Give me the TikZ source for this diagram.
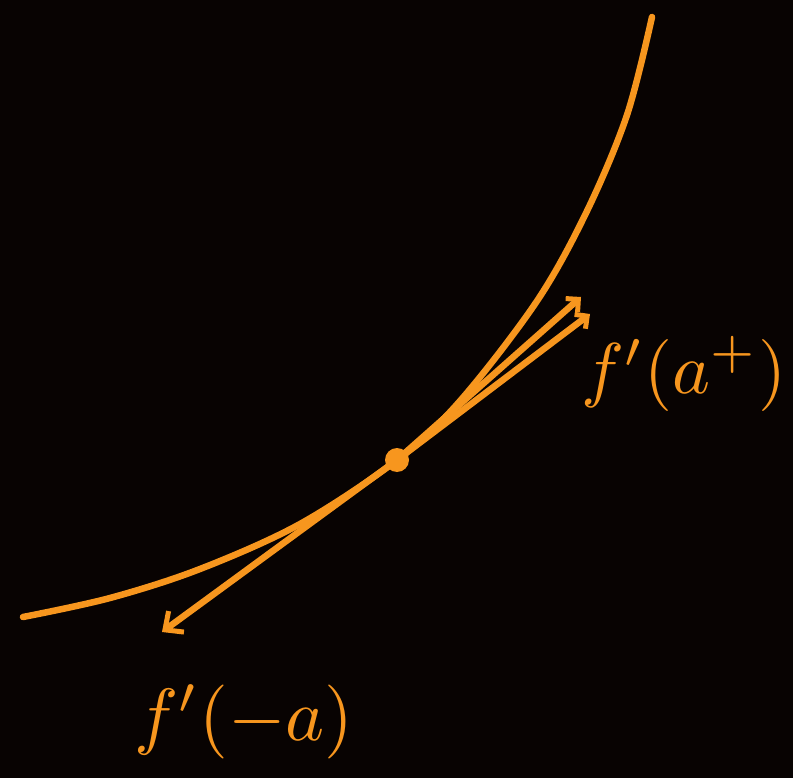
\documentclass[tikz,border=0pt]{standalone}
\usepackage{graphicx}
\usetikzlibrary{arrows.meta}
\definecolor{bg}{RGB}{8,3,2}
\definecolor{ink}{RGB}{247,150,30}
\tikzset{
  pen/.style={draw=ink,line width=6.5pt,line cap=round,line join=round},
  tangent/.style={pen,-{Straight Barb[length=14pt,width=26pt,line width=5pt]}},
  smalltangent/.style={pen,-{Straight Barb[length=9pt,width=18pt,line width=5pt]}},
  lbl/.style={text=ink,inner sep=0pt}
}
\begin{document}
\begin{tikzpicture}[x=1pt,y=-1pt]
\fill[bg] (0,0) rectangle (793,778);
\useasboundingbox (0,0) rectangle (793,778);
% curve
\draw[pen] plot[smooth,tension=0.55] coordinates {(23,617) (110,598) (200,569) (300,524) (397,460) (460,401) (537,301) (587,211) (627,115) (652,17)};
% point of tangency
\node[circle,fill=ink,minimum size=24pt,inner sep=0pt] (p) at (397,460) {};
\coordinate (t1) at (581,297);
\coordinate (t2) at (590,314);
\coordinate (t3) at (162,632);
\draw[smalltangent] (p.center) -- (t1);
\draw[smalltangent] (p.center) -- (t2);
\draw[tangent] (p.center) -- (t3);
\node[lbl] (lp) at (684,374) {\scalebox{7.2}{$f'(a^{+})$}};
\node[lbl] (lm) at (244,722) {\scalebox{7.4}{$f'(-a)$}};
\end{tikzpicture}
\end{document}
